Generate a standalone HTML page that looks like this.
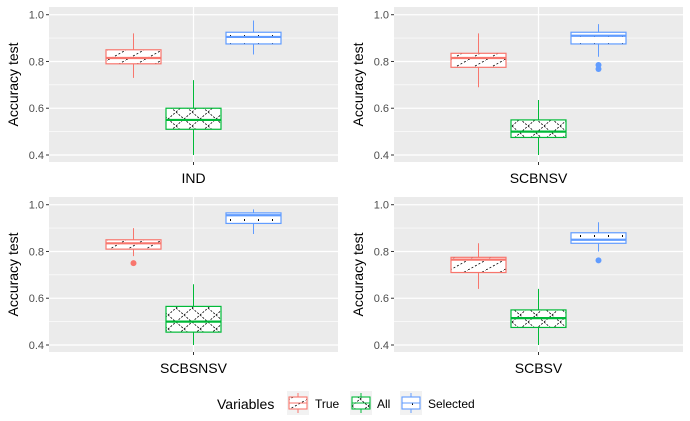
<!DOCTYPE html>
<html><head><meta charset="utf-8"><style>
body{margin:0;background:#fff;}
svg{display:block;font-family:"Liberation Sans",Arial,sans-serif;}
</style></head><body>
<svg id="chart" width="690" height="421" viewBox="0 0 690 421" xmlns="http://www.w3.org/2000/svg">
<defs>
<pattern id="pTrue" width="18" height="10" patternUnits="userSpaceOnUse"><rect width="18" height="10" fill="#fff"/><path d="M0 10 L18 0" stroke="#000" stroke-width="0.8" stroke-dasharray="2 2"/></pattern>
<pattern id="pAll" width="16" height="14" patternUnits="userSpaceOnUse"><rect width="16" height="14" fill="#fff"/><path d="M0 14 L16 0 M0 0 L16 14" stroke="#000" stroke-width="0.8" stroke-dasharray="2 1.5"/></pattern>
<pattern id="pSel" width="14" height="8" patternUnits="userSpaceOnUse"><rect width="14" height="8" fill="#fff"/><rect x="6" y="3" width="1" height="2" fill="#000"/></pattern>
</defs>
<g id="root"></g>
</svg>
<script>
const facets = ["IND","SCBNSV","SCBSNSV","SCBSV"];
const groups = ["True","All","Selected"];
// [lowWhisker, q1, median, q3, highWhisker] per facet per group
const trueStats = [[0.73,0.79,0.815,0.85,0.92],[0.69,0.775,0.815,0.835,0.92],[0.78,0.81,0.835,0.85,0.90],[0.64,0.71,0.765,0.775,0.835]];
const allStats = [[0.40,0.51,0.55,0.60,0.72],[0.40,0.475,0.50,0.55,0.635],[0.40,0.455,0.50,0.565,0.66],[0.40,0.475,0.515,0.55,0.64]];
const selStats = [[0.83,0.875,0.905,0.925,0.975],[0.82,0.875,0.91,0.925,0.96],[0.875,0.92,0.955,0.965,0.98],[0.80,0.835,0.85,0.88,0.925]];
const trueOut = [[],[],[0.75],[]];
const allOut = [[],[],[],[]];
const selOut = [[],[0.785,0.768],[],[0.762]];
const yTicks = [0.4,0.6,0.8,1.0];
const yTickLabels = ["0.4","0.6","0.8","1.0"];

const colors = ["#F8766D","#00BA38","#619CFF"];
const pats = ["url(#pTrue)","url(#pAll)","url(#pSel)"];
const stats = [trueStats, allStats, selStats];
const outs = [trueOut, allOut, selOut];
const panels = [{x:49,y:7},{x:394,y:7},{x:49,y:197},{x:394,y:197}];
const PW=289, PH=155;
const NS="http://www.w3.org/2000/svg";
const root=document.getElementById('root');
function mk(tag,attrs,parent){const e=document.createElementNS(NS,tag);for(const k in attrs)e.setAttribute(k,attrs[k]);(parent||root).appendChild(e);return e;}
const yMin=0.37, yMax=1.033;

facets.forEach((f,i)=>{
  const p=panels[i];
  const y=v=>p.y+PH-(v-yMin)/(yMax-yMin)*PH;
  const cx=p.x+PW/2;
  const g=mk('g',{});
  
  
  const bg=mk('rect',{x:p.x,y:p.y,width:PW,height:PH,fill:'#EBEBEB'},g);
  
  
  for(let k=0;k<yTicks.length-1;k++){const v=(yTicks[k]+yTicks[k+1])/2;mk('line',{x1:p.x,x2:p.x+PW,y1:y(v),y2:y(v),stroke:'#fff','stroke-width':0.6},g);}
  yTicks.forEach((v,k)=>{
    mk('line',{x1:p.x,x2:p.x+PW,y1:y(v),y2:y(v),stroke:'#fff','stroke-width':1.2},g);
    mk('line',{x1:p.x-3,x2:p.x,y1:y(v),y2:y(v),stroke:'#333','stroke-width':1},g);
    const t=mk('text',{x:p.x-5,y:y(v)+4,'text-anchor':'end','font-size':11,fill:'#4D4D4D'},g);
    t.textContent=yTickLabels[k];
    
    
  });
  mk('line',{x1:cx,x2:cx,y1:p.y,y2:p.y+PH,stroke:'#fff','stroke-width':1.2},g);
  mk('line',{x1:cx,x2:cx,y1:p.y+PH,y2:p.y+PH+3,stroke:'#333','stroke-width':1},g);
  const xl=mk('text',{x:cx,y:p.y+PH+21,'text-anchor':'middle','font-size':14,fill:'#000'},g);
  xl.textContent=f;
  
  
  const yt=mk('text',{x:0,y:0,transform:`translate(${p.x-31},${p.y+PH/2}) rotate(-90)`,'text-anchor':'middle','font-size':14,fill:'#000'},g);
  yt.textContent='Accuracy test';
  
  
  groups.forEach((gr,j)=>{
    const s=stats[j][i];
    const bx=cx+(j-1)*60, w=55, c=colors[j];
    const bg2=mk('g',{},g);
    
    
    mk('line',{x1:bx,x2:bx,y1:y(s[0]),y2:y(s[4]),stroke:c,'stroke-width':1},bg2);
    mk('rect',{x:bx-w/2,y:y(s[3]),width:w,height:y(s[1])-y(s[3]),fill:pats[j],stroke:c,'stroke-width':1.2},bg2);
    mk('line',{x1:bx-w/2,x2:bx+w/2,y1:y(s[2]),y2:y(s[2]),stroke:c,'stroke-width':2.2},bg2);
    outs[j][i].forEach(o=>{const pt=mk('circle',{cx:bx,cy:y(o),r:3,fill:c},bg2);
      
      });
  });
});
// legend
const lg=mk('g',{});


const lt=mk('text',{x:217,y:409,'font-size':14,fill:'#000'},lg);
lt.textContent='Variables';
const keyX=[287,350,400], txtX=[315,377,428];
groups.forEach((gr,j)=>{
  const e=mk('g',{},lg);
  
  
  const kx=keyX[j];
  mk('rect',{x:kx,y:391,width:22,height:24,fill:'#F2F2F2'},e);
  mk('line',{x1:kx+11,x2:kx+11,y1:393,y2:413,stroke:colors[j]},e);
  mk('rect',{x:kx+2,y:397,width:18,height:12,fill:pats[j],stroke:colors[j],'stroke-width':1.1},e);
  mk('line',{x1:kx+2,x2:kx+20,y1:403,y2:403,stroke:colors[j]},e);
  const t=mk('text',{x:txtX[j],y:408,'font-size':12,fill:'#000'},e);
  t.textContent=gr;
});
</script>
</body></html>
